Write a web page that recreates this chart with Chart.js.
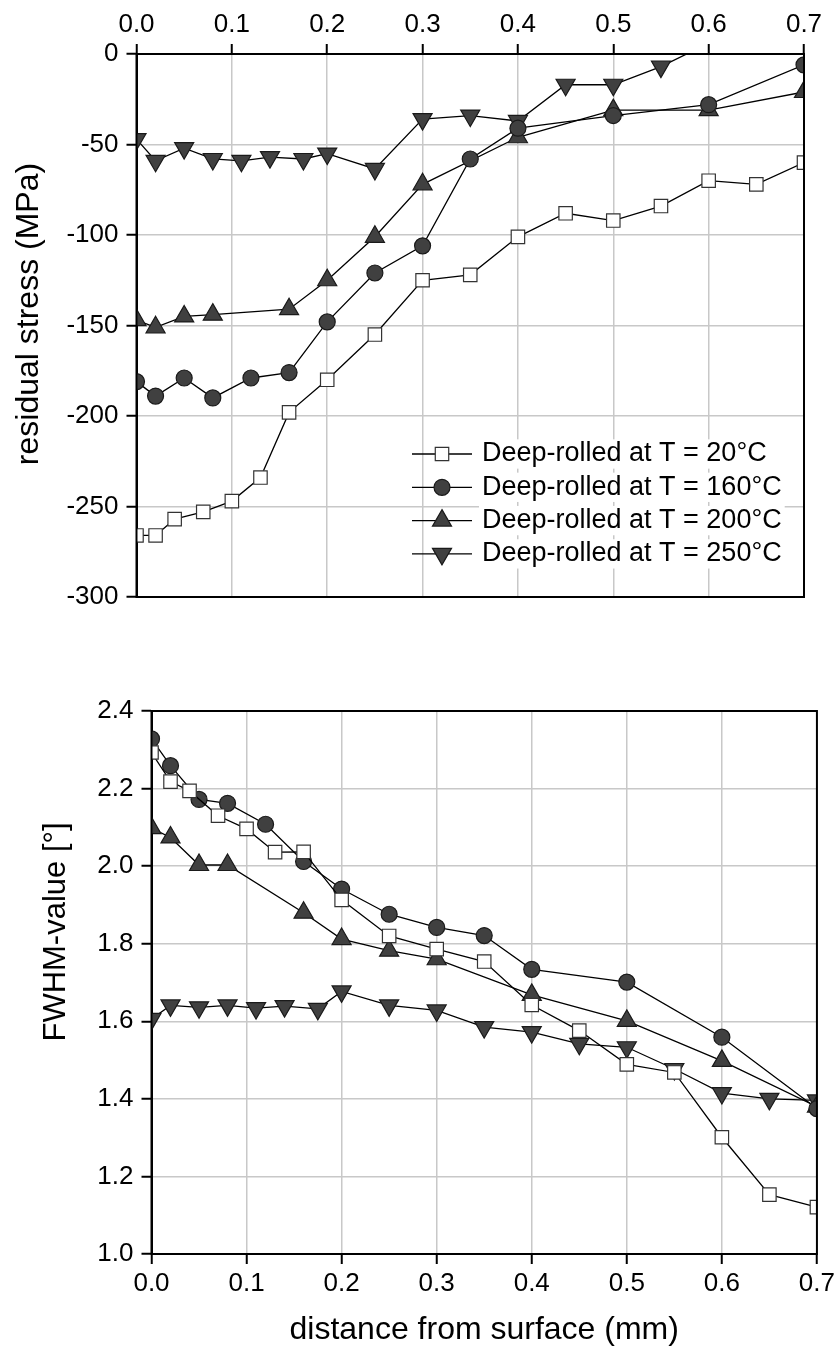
<!DOCTYPE html>
<html>
<head>
<meta charset="utf-8">
<script src="https://cdn.jsdelivr.net/npm/chart.js@4.4.1/dist/chart.umd.min.js"></script>
<style>
  body { margin: 0; background: #fff; }
  #wrap { position: relative; width: 839px; height: 1349px; }
  canvas { position: absolute; left: 0; }
</style>
</head>
<body>
<div id="wrap">
  <canvas id="stressChart" width="839" height="640" style="top:0"></canvas>
  <canvas id="fwhmChart" width="839" height="709" style="top:640px"></canvas>
</div>
<script>
const seriesLabels = ['Deep-rolled at T = 20°C', 'Deep-rolled at T = 160°C', 'Deep-rolled at T = 200°C', 'Deep-rolled at T = 250°C']

const depthTicks = [0, 0.1, 0.2, 0.3, 0.4, 0.5, 0.6, 0.7]
const stressTicks = [-300, -250, -200, -150, -100, -50, 0]
const fwhmTicks = [1.0, 1.2, 1.4, 1.6, 1.8, 2.0, 2.2, 2.4]

// 20°C
const depth20 = [0, 0.02, 0.04, 0.07, 0.1, 0.13, 0.16, 0.2, 0.25, 0.3, 0.35, 0.4, 0.45, 0.5, 0.55, 0.6, 0.65, 0.7]
const stress20 = [-266, -266, -257, -253, -247, -234, -198, -180, -155, -125, -122, -101, -88, -92, -84, -70, -72, -60]
const fwhm20 = [2.293, 2.218, 2.194, 2.130, 2.096, 2.036, 2.037, 1.913, 1.820, 1.786, 1.754, 1.642, 1.576, 1.489, 1.468, 1.301, 1.153, 1.121]

// 160°C
const depth160 = [0, 0.02, 0.05, 0.08, 0.12, 0.16, 0.2, 0.25, 0.3, 0.35, 0.4, 0.5, 0.6, 0.7]
const stress160 = [-181, -189, -179, -190, -179, -176, -148, -121, -106, -58, -41, -34, -28, -6]
const fwhm160 = [2.328, 2.259, 2.172, 2.162, 2.108, 2.012, 1.941, 1.876, 1.842, 1.821, 1.734, 1.701, 1.559, 1.375]

// 200°C
const depth200 = [0, 0.02, 0.05, 0.08, 0.16, 0.2, 0.25, 0.3, 0.4, 0.5, 0.6, 0.7]
const stress200 = [-147, -151, -145, -144, -141, -125, -101, -72, -46, -31, -31, -21]
const fwhm200 = [2.098, 2.074, 2.003, 2.003, 1.880, 1.812, 1.782, 1.760, 1.668, 1.601, 1.498, 1.380]

// 250°C
const depth250 = [0, 0.02, 0.05, 0.08, 0.11, 0.14, 0.175, 0.2, 0.25, 0.3, 0.35, 0.4, 0.45, 0.5, 0.55, 0.6, 0.65, 0.7]
const stress250 = [-47, -59, -52, -58, -59, -57, -58, -55, -63.5, -36, -34, -37, -17, -17, -7, 6]
const fwhm250 = [1.606, 1.641, 1.636, 1.641, 1.634, 1.639, 1.632, 1.677, 1.641, 1.628, 1.585, 1.572, 1.542, 1.533, 1.477, 1.415, 1.400, 1.396]

Chart.defaults.font.family = "'Liberation Sans', Arial, sans-serif"
Chart.defaults.color = '#000'

const markerStyles = [
    { pointStyle: 'rect', pointRadius: 9.5, pointRotation: 0, pointBackgroundColor: '#fff', pointBorderColor: '#333' },
    { pointStyle: 'circle', pointRadius: 8, pointRotation: 0, pointBackgroundColor: '#404040', pointBorderColor: '#1a1a1a' },
    { pointStyle: 'triangle', pointRadius: 11, pointRotation: 0, pointBackgroundColor: '#404040', pointBorderColor: '#1a1a1a' },
    { pointStyle: 'triangle', pointRadius: 11, pointRotation: 180, pointBackgroundColor: '#404040', pointBorderColor: '#1a1a1a' }
]

function pontos(xs, ys) {
    return ys.map((y, i) => ({ x: xs[i], y: y }))
}

function montarDatasets(series) {
    return series.map((s, i) => ({
        label: seriesLabels[i],
        data: pontos(s[0], s[1]),
        borderColor: '#000',
        borderWidth: 1.3,
        pointBorderWidth: 1.2,
        pointHoverRadius: markerStyles[i].pointRadius,
        tension: 0,
        clip: 0,
        ...markerStyles[i]
    }))
}

const frame = {
    id: 'frame',
    afterDatasetsDraw(chart) {
        const { ctx, chartArea: a } = chart
        ctx.save()
        ctx.strokeStyle = '#000'
        ctx.lineWidth = 2
        ctx.strokeRect(a.left, a.top, a.right - a.left, a.bottom - a.top)
        ctx.restore()
    }
}

const sideTitle = {
    id: 'sideTitle',
    afterDraw(chart, args, opts) {
        const ctx = chart.ctx
        ctx.save()
        ctx.translate(opts.x, opts.y)
        ctx.rotate(-Math.PI / 2)
        ctx.font = opts.font
        ctx.fillStyle = '#000'
        ctx.textAlign = 'center'
        ctx.textBaseline = 'middle'
        ctx.fillText(opts.text, 0, 0)
        ctx.restore()
    }
}

const insideLegend = {
    id: 'insideLegend',
    afterDatasetsDraw(chart, args, opts) {
        if (!opts.display) return
        const ctx = chart.ctx
        ctx.save()
        ctx.font = opts.font
        ctx.textBaseline = 'middle'
        chart.data.datasets.forEach((ds, i) => {
            const y = opts.y + i * opts.rowHeight
            const w = ctx.measureText(ds.label).width
            ctx.fillStyle = '#fff'
            ctx.fillRect(opts.textX - 3, y - opts.rowHeight / 2 + 2, w + 6, opts.rowHeight - 4)

            ctx.strokeStyle = '#000'
            ctx.lineWidth = 1.3
            ctx.beginPath()
            ctx.moveTo(opts.lineX0, y)
            ctx.lineTo(opts.lineX1, y)
            ctx.stroke()

            ctx.fillStyle = ds.pointBackgroundColor
            ctx.strokeStyle = ds.pointBorderColor
            ctx.lineWidth = ds.pointBorderWidth
            Chart.helpers.drawPoint(ctx, {
                pointStyle: ds.pointStyle,
                radius: ds.pointRadius,
                rotation: ds.pointRotation,
                borderWidth: ds.pointBorderWidth
            }, (opts.lineX0 + opts.lineX1) / 2, y)

            ctx.fillStyle = '#000'
            ctx.fillText(ds.label, opts.textX, y)
        })
        ctx.restore()
    }
}

function eixoX(position, height, title) {
    return {
        type: 'linear',
        position: position,
        min: 0,
        max: 0.7,
        afterBuildTicks: s => { s.ticks = depthTicks.map(v => ({ value: v })) },
        ticks: { callback: v => v.toFixed(1), font: { size: 26 }, padding: position === 'top' ? 4 : 4, maxRotation: 0, autoSkip: false },
        grid: { color: '#c8c8c8', lineWidth: 1.5, tickColor: '#000', tickLength: 10, tickWidth: 2 },
        border: { color: '#000', width: 2 },
        title: title ? { display: true, text: title, font: { size: 32 }, padding: 0 } : { display: false },
        afterFit: s => { s.height = height }
    }
}

function eixoY(min, max, valores, casas, width) {
    return {
        min: min,
        max: max,
        afterBuildTicks: s => { s.ticks = valores.map(v => ({ value: v })) },
        ticks: { callback: v => v.toFixed(casas), font: { size: 26 }, padding: 8, autoSkip: false },
        grid: { color: '#c8c8c8', lineWidth: 1.5, tickColor: '#000', tickLength: 10, tickWidth: 2 },
        border: { color: '#000', width: 2 },
        afterFit: s => { s.width = width }
    }
}

new Chart(document.getElementById('stressChart'), {
    type: 'line',
    data: {
        datasets: montarDatasets([[depth20, stress20], [depth160, stress160], [depth200, stress200], [depth250, stress250]])
    },
    options: {
        responsive: false,
        animation: false,
        events: [],
        layout: { padding: { top: 0, left: 0, right: 35, bottom: 43 } },
        scales: {
            x: eixoX('top', 54, null),
            y: eixoY(-300, 0, stressTicks, 0, 136.5)
        },
        plugins: {
            legend: { display: false },
            tooltip: { enabled: false },
            sideTitle: { text: 'residual stress (MPa)', x: 29, y: 314, font: "32px 'Liberation Sans', Arial, sans-serif" },
            insideLegend: { display: true, y: 454, rowHeight: 33.3, lineX0: 412, lineX1: 472, textX: 482, font: "27px 'Liberation Sans', Arial, sans-serif" }
        }
    },
    plugins: [frame, insideLegend, sideTitle]
})

new Chart(document.getElementById('fwhmChart'), {
    type: 'line',
    data: {
        datasets: montarDatasets([[depth20, fwhm20], [depth160, fwhm160], [depth200, fwhm200], [depth250, fwhm250]])
    },
    options: {
        responsive: false,
        animation: false,
        events: [],
        layout: { padding: { top: 71, left: 0, right: 20, bottom: 0 } },
        scales: {
            x: eixoX('bottom', 95, 'distance from surface (mm)'),
            y: eixoY(1.0, 2.4, fwhmTicks, 1, 151.5)
        },
        plugins: {
            legend: { display: false },
            tooltip: { enabled: false },
            sideTitle: { text: 'FWHM-value [°]', x: 56, y: 292, font: "31px 'Liberation Sans', Arial, sans-serif" },
            insideLegend: { display: false }
        }
    },
    plugins: [frame, insideLegend, sideTitle]
})
</script>
</body>
</html>
